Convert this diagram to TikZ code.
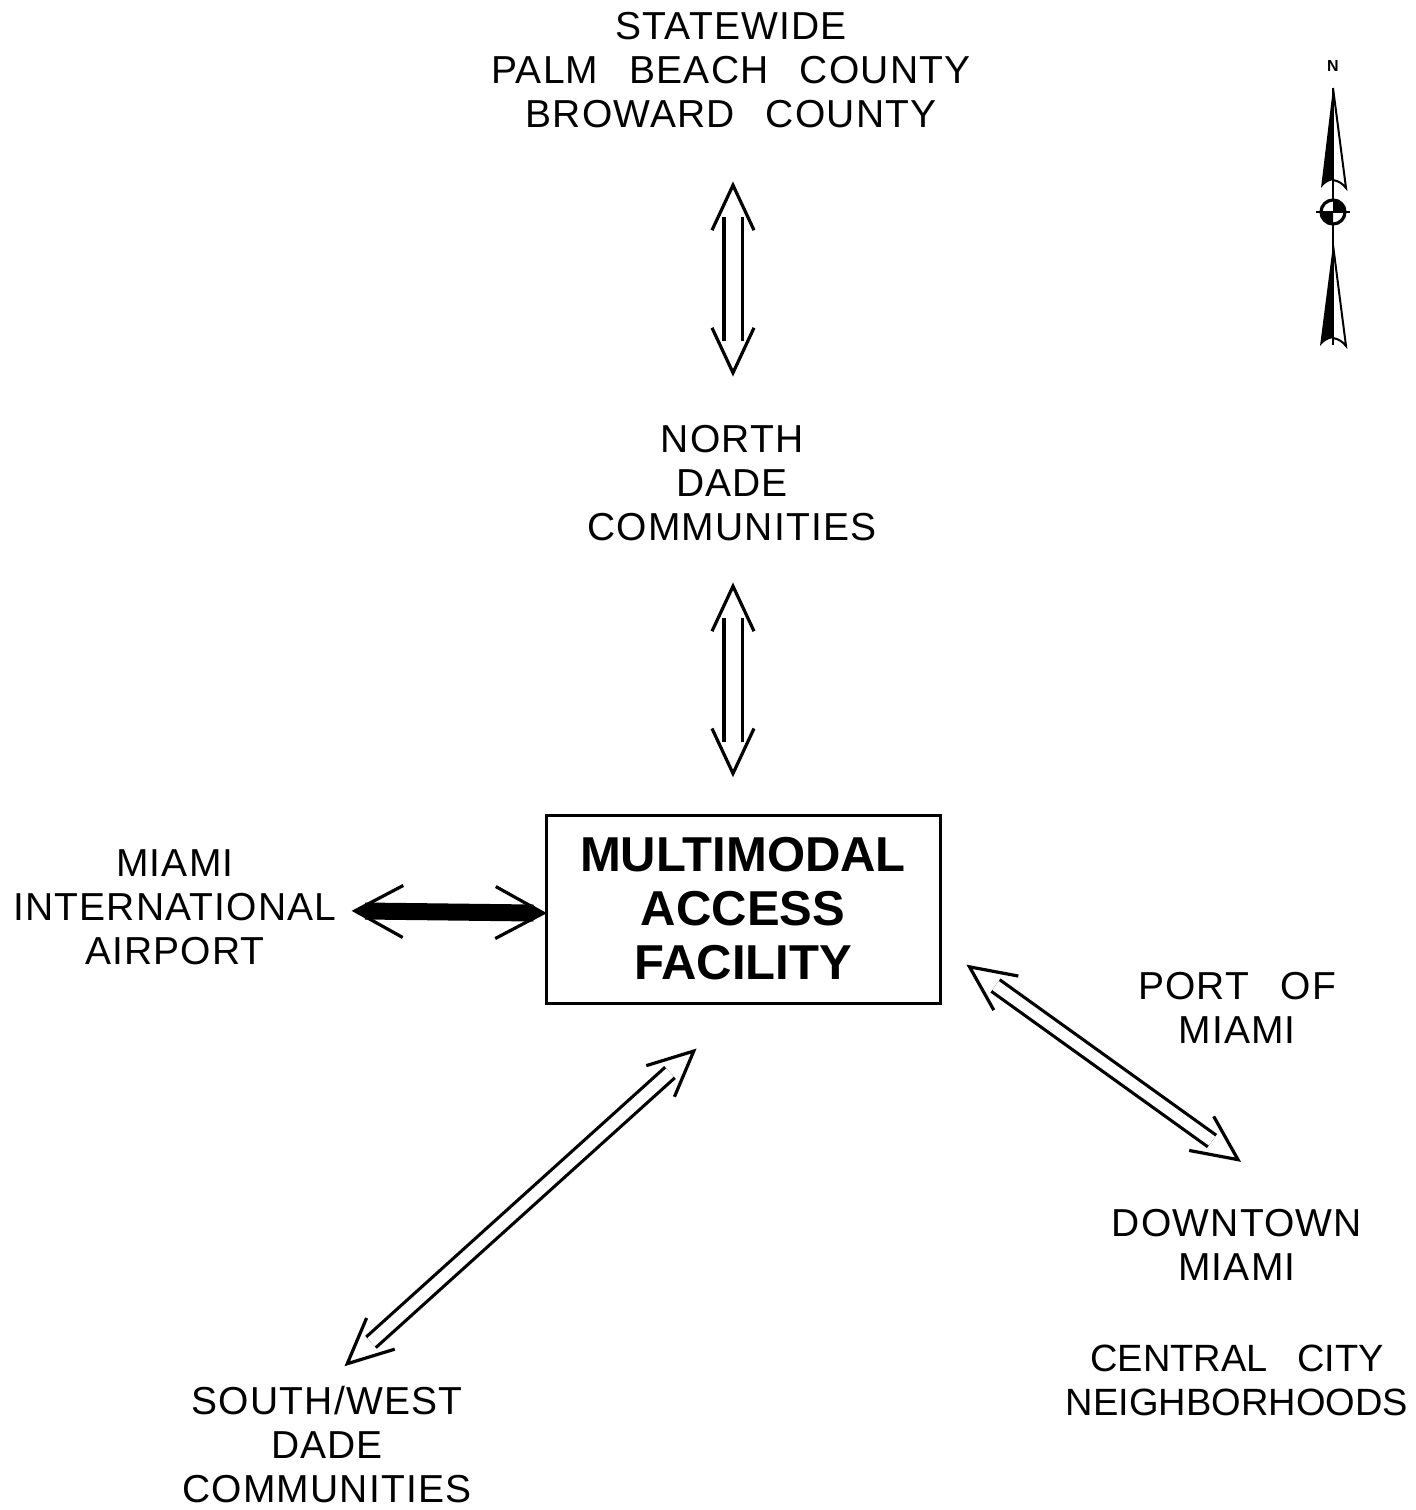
\documentclass[tikz,border=0pt]{standalone}
\usepackage{fontspec}
\setmainfont{Liberation Sans}
\newfontfamily\lettering[LetterSpace=3,WordSpace=2.6]{Liberation Sans}
\newfontfamily\narrowlettering[LetterSpace=0,WordSpace=2.8]{Liberation Sans}
\usetikzlibrary{calc,decorations.markings}

\begin{document}
\begin{tikzpicture}[x=0.5pt,y=-0.5pt,
    place/.style={inner sep=0pt,align=center,font=\lettering\fontsize{19.5}{22}\selectfont},
    facility/.style={draw,line width=1.5pt,minimum width=197pt,minimum height=94pt,
      inner sep=0pt,align=center,font=\fontsize{24.5}{27}\bfseries\selectfont},
    barb/.style={line width=1.6pt,miter limit=20},
    link/.style={double,line width=1.6pt,double distance=7.5pt,postaction={decorate},
      decoration={markings,
        mark=at position 0 with {\draw[barb] (6.5pt,10.5pt) -- (-16pt,0pt) -- (6.5pt,-10.5pt);},
        mark=at position 1 with {\draw[barb] (-6.5pt,10.5pt) -- (16pt,0pt) -- (-6.5pt,-10.5pt);}}},
    slimlink/.style={link,double distance=5.5pt},
    heavylink/.style={line width=8.5pt,postaction={decorate},
      decoration={markings,
        mark=at position 0 with {\draw[barb] (19pt,13pt) -- (-5pt,0pt) -- (19pt,-13pt);
          \fill (-5pt,0pt) -- (1pt,4.2pt) -- (1pt,-4.2pt) -- cycle;},
        mark=at position 1 with {\draw[barb] (-19pt,13pt) -- (5pt,0pt) -- (-19pt,-13pt);
          \fill (5pt,0pt) -- (-1pt,4.2pt) -- (-1pt,-4.2pt) -- cycle;}}}]
  \useasboundingbox (0,0) rectangle (1415,1510);

  % places
  \node[place] (state) at (731,70) {STATEWIDE\\PALM BEACH COUNTY\\BROWARD COUNTY};
  \node[place] (north) at (732,483) {NORTH\\DADE\\COMMUNITIES};
  \node[facility] (mmaf) at (743,909) {MULTIMODAL\\ACCESS\\FACILITY};
  \node[place] (mia) at (175,907) {MIAMI\\INTERNATIONAL\\AIRPORT};
  \node[place] (port) at (1237,1008) {PORT OF\\MIAMI};
  \node[place] (downtown) at (1237,1245) {DOWNTOWN\\MIAMI};
  \node[place,font=\narrowlettering\fontsize{19}{22}\selectfont] (central) at (1237,1380) {CENTRAL CITY\\NEIGHBORHOODS};
  \node[place] (southwest) at (327,1445) {SOUTH/WEST\\DADE\\COMMUNITIES};

  % connections
  \draw[link] ($(state.south)+(2,89)$) -- ($(north.north)+(1,-84)$);
  \draw[link] ($(north.south)+(1,77)$) -- ($(mmaf.north)+(-10,-72)$);
  \draw[heavylink] ($(mia.east)+(28,4)$) -- ($(mmaf.west)+(-11,4)$);
  \draw[slimlink] ($(mmaf.south east)+(54,-19)$) -- ($(downtown.north)+(-25,-68)$);
  \draw[slimlink] ($(mmaf.south)+(-73,68)$) -- ($(southwest.north)+(44,-44)$);

  % north arrow
  \node[inner sep=0pt,font=\bfseries\fontsize{8}{8}\selectfont] (n) at (1333,66) {N};
  \draw[line width=1pt] (1333,88) -- (1333,345);
  \fill (1333,88) -- (1321,188) to[bend left=20] (1333,180) -- cycle;
  \draw[line width=1pt] (1333,88) -- (1346,188) to[bend right=20] (1333,180);
  \fill (1333,245) -- (1320,346) to[bend left=20] (1333,338) -- cycle;
  \draw[line width=1pt] (1333,245) -- (1346,346) to[bend right=20] (1333,338);
  \fill[white] (1333,212) circle (12);
  \fill (1333,212) -- (1345,212) arc (0:-90:12) -- cycle;
  \fill (1333,212) -- (1321,212) arc (180:90:12) -- cycle;
  \draw[line width=1.6pt] (1333,212) circle (12);
  \draw[line width=1.2pt] (1316,212) -- (1350,212);
\end{tikzpicture}
\end{document}
